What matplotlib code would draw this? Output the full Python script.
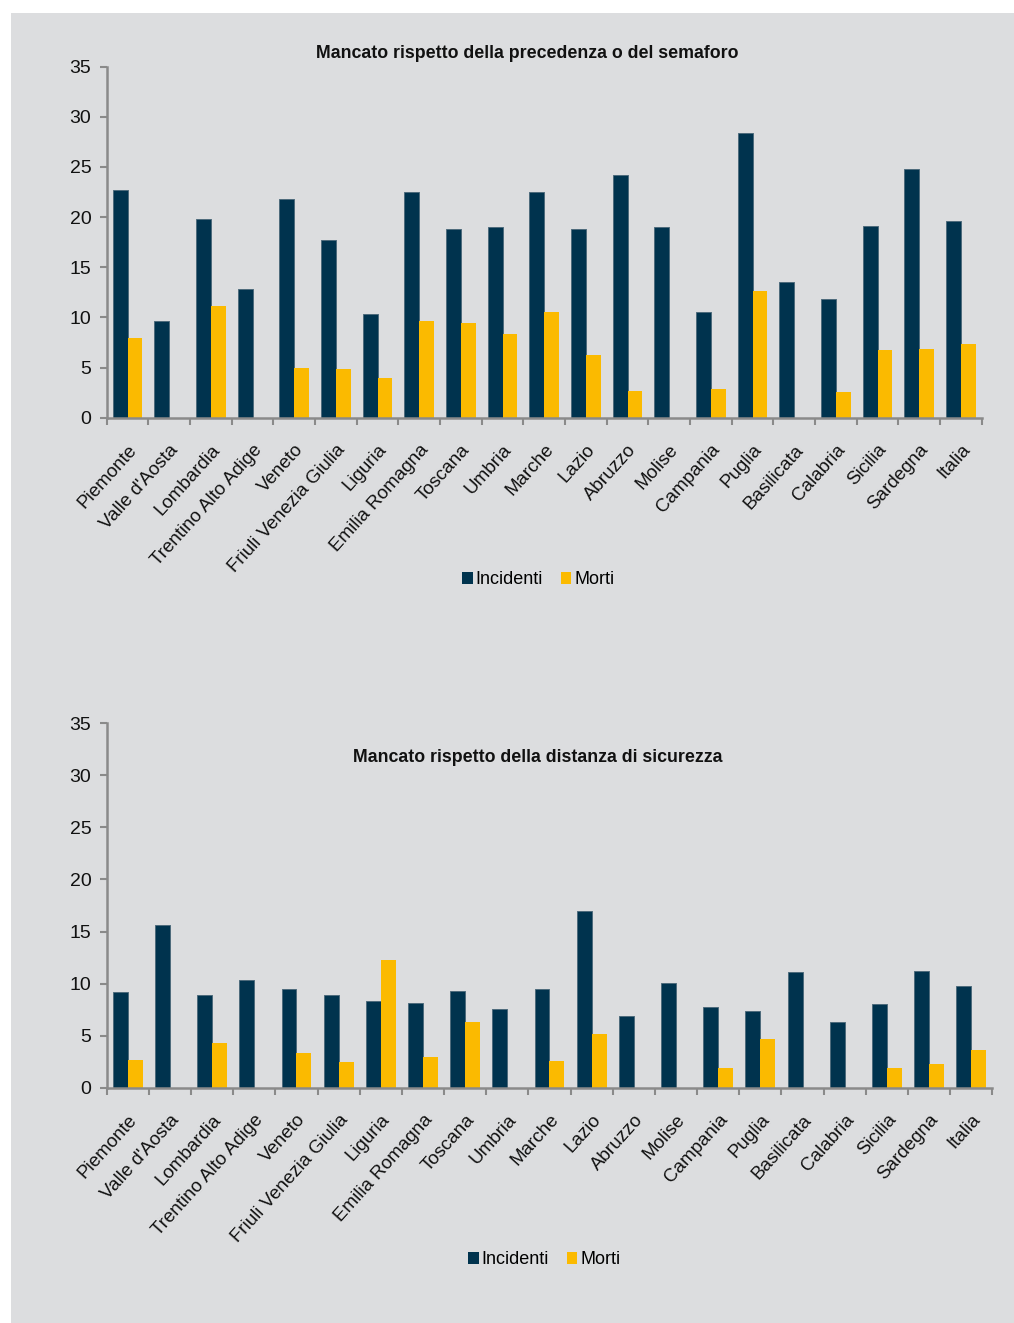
import matplotlib
matplotlib.use("Agg")
import matplotlib.pyplot as plt
from matplotlib.patches import Rectangle, Patch
import numpy as np

# ── Palette & config ─────────────────────────────────────────────────────────
PANEL  = "#DCDDDF"
DARK   = "#00334E"
YELLOW = "#FBBA00"
AXIS_C = "#8A8A8A"
TEXT_C = "#111111"

FONT = ["Liberation Sans", "DejaVu Sans"]

# ── Data ─────────────────────────────────────────────────────────────────────
regioni = ["Piemonte", "Valle d'Aosta", "Lombardia", "Trentino Alto Adige",
           "Veneto", "Friuli Venezia Giulia", "Liguria", "Emilia Romagna",
           "Toscana", "Umbria", "Marche", "Lazio", "Abruzzo", "Molise",
           "Campania", "Puglia", "Basilicata", "Calabria", "Sicilia",
           "Sardegna", "Italia"]

# Mancato rispetto della precedenza o del semaforo
prec_incidenti = [22.7, 9.6, 19.8, 12.8, 21.8, 17.7, 10.3, 22.5, 18.8, 19.0,
                  22.5, 18.8, 24.2, 19.05, 10.5, 28.4, 13.5, 11.8, 19.15, 24.8, 19.6]
prec_morti     = [7.9, 0, 11.1, 0, 5.0, 4.85, 4.0, 9.6, 9.4, 8.3,
                  10.5, 6.25, 2.66, 0, 2.83, 12.6, 0, 2.6, 6.75, 6.9, 7.35]

# Mancato rispetto della distanza di sicurezza
dist_incidenti = [9.2, 15.6, 8.9, 10.3, 9.45, 8.9, 8.36, 8.1, 9.3, 7.6,
                  9.5, 16.97, 6.89, 10.1, 7.75, 7.4, 11.1, 6.28, 8.04, 11.18, 9.74]
dist_morti     = [2.66, 0, 4.26, 0, 3.3, 2.44, 12.24, 2.95, 6.3, 0,
                  2.56, 5.16, 0, 0, 1.86, 4.68, 0, 0, 1.92, 2.28, 3.62]

W, H = 1014, 1323
fig = plt.figure(figsize=(W / 100, H / 100), dpi=100, facecolor="white")
fig.patches.append(Rectangle((11 / W, 0), 1 - 11 / W, 1 - 13 / H,
                             transform=fig.transFigure, facecolor=PANEL,
                             edgecolor="none", zorder=-10))


def px(x0, y0, x1, y1):
    # pixel box (left, top, right, bottom) -> figure rect
    return [x0 / W, 1 - y1 / H, (x1 - x0) / W, (y1 - y0) / H]


def draw_panel(rect, inc, mor, title, title_xy, legend_xy):
    ax = fig.add_axes(rect)
    ax.set_facecolor("none")
    x = np.arange(len(regioni))
    bw = 0.353
    ax.bar(x - bw / 2, inc, width=bw, color=DARK, edgecolor="#4E6B7C",
           linewidth=0.7, zorder=3)
    ax.bar(x + bw / 2, mor, width=bw, color=YELLOW, edgecolor="none", zorder=3)

    ax.set_xlim(-0.5, len(regioni) - 0.5)
    ax.set_ylim(0, 35)
    ax.set_yticks(range(0, 36, 5))

    for s in ["top", "right"]:
        ax.spines[s].set_visible(False)
    for s in ["left", "bottom"]:
        ax.spines[s].set_color(AXIS_C)
        ax.spines[s].set_linewidth(1.8)
        ax.spines[s].set_zorder(4)

    ax.tick_params(axis="y", length=5, width=1.5, color=AXIS_C, pad=6,
                   labelsize=14, labelcolor=TEXT_C)
    for lab in ax.get_yticklabels():
        lab.set_family(FONT)

    # category boundaries carry the tick marks, labels sit at centres
    ax.set_xticks(np.arange(-0.5, len(regioni), 1.0), minor=True)
    ax.tick_params(axis="x", which="minor", length=5, width=1.5, color=AXIS_C)
    ax.set_xticks(x)
    ax.set_xticklabels(regioni, rotation=48, ha="right", va="top",
                       rotation_mode="anchor", family=FONT, fontsize=13.5,
                       color=TEXT_C)
    ax.tick_params(axis="x", which="major", length=0, pad=17)

    fig.text(title_xy[0] / W, 1 - title_xy[1] / H, title, ha="center",
             va="center", fontsize=12.8, fontweight="bold", family=FONT,
             color=TEXT_C)

    handles = [Patch(facecolor=DARK, label="Incidenti"),
               Patch(facecolor=YELLOW, label="Morti")]
    fig.legend(handles=handles, loc="center",
               bbox_to_anchor=(legend_xy[0] / W, 1 - legend_xy[1] / H),
               ncol=2, frameon=False, handlelength=0.6, handleheight=0.6,
               handletextpad=0.15, columnspacing=1.0,
               prop={"family": FONT, "size": 13})
    return ax


draw_panel(px(106.7, 66.7, 981.7, 417.7), prec_incidenti, prec_morti,
           "Mancato rispetto della precedenza o del semaforo",
           (527, 53), (538, 580))
draw_panel(px(106.7, 723.3, 992.3, 1087.7), dist_incidenti, dist_morti,
           "Mancato rispetto della distanza di sicurezza",
           (538, 758), (544, 1260))

fig.savefig("out.png", dpi=100, facecolor="white")
